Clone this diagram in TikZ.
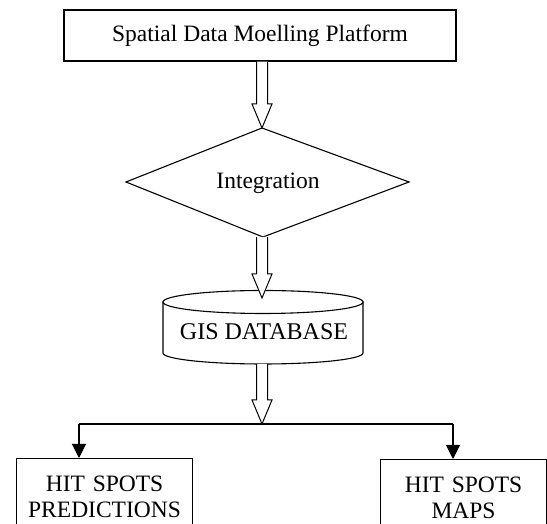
\documentclass[tikz,border=0pt]{standalone}
\usepackage{fontspec}
\setmainfont{Liberation Serif}
\usetikzlibrary{calc,arrows.meta}
\tikzset{
  box/.style={draw, line width=1.1pt, fill=white, inner sep=0pt},
  shapeline/.style={draw, line width=1.1pt, fill=white},
  harrow/.style={draw, line width=1pt, fill=white, line join=miter},
  branch/.style={draw, line width=1.1pt, -{Triangle[width=14pt,length=14pt]}},
  lbl/.style={font=\fontsize{23.5}{27.5}\selectfont},
  lowlbl/.style={font=\fontsize{23.5}{26}\selectfont}
}
\newcommand\hollowarrow[2]{%
  \path[harrow] let \p1=(#1), \p2=(#2) in
    (\x2-5.5pt,\y1) -- (\x2-5.5pt,\y2+24pt) -- (\x2-10pt,\y2+24pt) -- (\x2,\y2)
    -- (\x2+10pt,\y2+24pt) -- (\x2+5.5pt,\y2+24pt) -- (\x2+5.5pt,\y1);}
\begin{document}
\begin{tikzpicture}[x=1pt,y=1pt]
\clip (0,0) rectangle (547,524);
\fill[white] (0,0) rectangle (547,524);

% top box
\node[box, lbl, minimum width=392pt, minimum height=51pt] (plat) at (260,488.5) {Spatial Data Moelling Platform};

% diamond
\coordinate (dt) at (262,396);
\coordinate (dr) at (409,342);
\coordinate (db) at (263,287);
\coordinate (dl) at (126,342);
\path[shapeline] (dt) -- (dr) -- (db) -- (dl) -- cycle;
\node[lbl] (integ) at (268,341) {Integration};

% cylinder
\path[shapeline] (163,222) -- (163,171) arc[start angle=180, end angle=360, x radius=100pt, y radius=11pt] -- (363,222) -- cycle;
\path[shapeline] (263,222) ellipse[x radius=100pt, y radius=11.5pt];
\node[lbl, font=\fontsize{24}{28}\selectfont] (gis) at (264,192) {GIS DATABASE};
\coordinate (ct) at (262,226);
\coordinate (cb) at (262,160);

% junction
\coordinate (jn) at (262,100);

% bottom boxes
\node[box, lowlbl, anchor=north west, text width=176pt, align=center, inner ysep=17pt] (pred) at (16,66) {HIT SPOTS\\PREDICTIONS};
\node[box, lowlbl, anchor=north west, text width=166pt, align=center, inner ysep=17pt] (maps) at (380,65) {HIT SPOTS\\MAPS};

% branches
\draw[line width=1.1pt] (jn) -- ($(pred.north west)+(63,34)$);
\draw[line width=1.1pt] (jn) -- ($(maps.north west)+(73,35)$);
\draw[branch] ($(pred.north west)+(63,34)$) -- ([xshift=63pt]pred.north west);
\draw[branch] ($(maps.north west)+(73,35)$) -- ([xshift=73pt]maps.north west);

% hollow arrows
\hollowarrow{plat.south}{dt}
\hollowarrow{db}{ct}
\hollowarrow{cb}{jn}
\end{tikzpicture}
\end{document}
